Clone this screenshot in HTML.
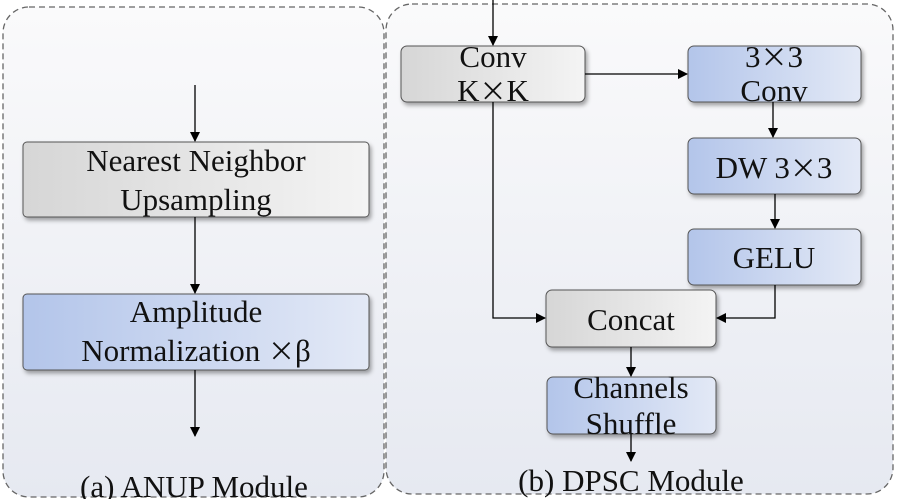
<!DOCTYPE html>
<html><head><meta charset="utf-8"><style>
body{margin:0;background:#fff;}
</style></head><body>
<svg width="897" height="499" viewBox="0 0 897 499" xmlns="http://www.w3.org/2000/svg">
<defs>
<linearGradient id="pan" x1="0" y1="0" x2="0" y2="1"><stop offset="0" stop-color="#fafafb"/><stop offset="1" stop-color="#e6e9f1"/></linearGradient>
<linearGradient id="gray" x1="0" y1="0" x2="1" y2="0"><stop offset="0" stop-color="#d6d6d6"/><stop offset="1" stop-color="#f4f4f4"/></linearGradient>
<linearGradient id="blue" x1="0" y1="0" x2="1" y2="0"><stop offset="0" stop-color="#b3c5ea"/><stop offset="1" stop-color="#e3e9f6"/></linearGradient>
<marker id="ar" markerWidth="10" markerHeight="10" refX="9" refY="5" orient="auto" markerUnits="userSpaceOnUse"><path d="M0,0 L10,5 L0,10z" fill="#000"/></marker>
<filter id="sh" x="-5%" y="-10%" width="115%" height="130%"><feDropShadow dx="2" dy="3" stdDeviation="2" flood-color="#000" flood-opacity="0.35"/></filter>
</defs>
<rect x="3" y="7" width="381" height="490" rx="26" fill="url(#pan)" stroke="#666" stroke-width="1.3" stroke-dasharray="6,4"/>
<rect x="386" y="4" width="507" height="490" rx="26" fill="url(#pan)" stroke="#666" stroke-width="1.3" stroke-dasharray="6,4"/>
<g stroke="#555" stroke-width="1" filter="url(#sh)">
<rect x="23" y="142" width="346" height="75" rx="4" fill="url(#gray)"/>
<rect x="23" y="294" width="346" height="76" rx="4" fill="url(#blue)"/>
<rect x="401" y="46" width="184" height="56" rx="6" fill="url(#gray)"/>
<rect x="688" y="46" width="173" height="56" rx="6" fill="url(#blue)"/>
<rect x="688" y="138" width="173" height="56" rx="6" fill="url(#blue)"/>
<rect x="688" y="229" width="173" height="56" rx="6" fill="url(#blue)"/>
<rect x="546" y="290" width="170" height="57" rx="6" fill="url(#gray)"/>
<rect x="547" y="377" width="169" height="57" rx="6" fill="url(#blue)"/>
</g>
<g stroke="#000" stroke-width="1.3" fill="none" marker-end="url(#ar)">
<line x1="195" y1="85" x2="195" y2="141"/>
<line x1="195" y1="217" x2="195" y2="293"/>
<line x1="195" y1="370" x2="195" y2="436"/>
<line x1="493" y1="0" x2="493" y2="45"/>
<line x1="585" y1="74" x2="687" y2="74"/>
<line x1="773" y1="102" x2="773" y2="137"/>
<line x1="775" y1="194" x2="775" y2="228"/>
<polyline points="493,102 493,318 545,318"/>
<polyline points="775,285 775,318 717,318"/>
<line x1="631" y1="347" x2="631" y2="376"/>
<line x1="631" y1="434" x2="631" y2="461"/>
</g>
<g font-family="Liberation Serif, serif" font-size="31" fill="#111" text-anchor="middle">
<text x="196" y="171">Nearest Neighbor</text>
<text x="196" y="210">Upsampling</text>
<text x="196" y="322">Amplitude</text>
<text x="196" y="361">Normalization <tspan font-family="Noto Sans CJK SC, sans-serif" font-size="27">×</tspan>β</text>
<text x="493" y="67">Conv</text>
<text x="493" y="101">K<tspan font-family="Noto Sans CJK SC, sans-serif" font-size="27">×</tspan>K</text>
<text x="774" y="67">3<tspan font-family="Noto Sans CJK SC, sans-serif" font-size="27">×</tspan>3</text>
<text x="774" y="101">Conv</text>
<text x="774" y="178">DW 3<tspan font-family="Noto Sans CJK SC, sans-serif" font-size="27">×</tspan>3</text>
<text x="774" y="268">GELU</text>
<text x="631" y="330">Concat</text>
<text x="631" y="398">Channels</text>
<text x="631" y="434">Shuffle</text>
<text x="194" y="497">(a) ANUP Module</text>
<text x="631" y="491">(b) DPSC Module</text>
</g>
</svg>
</body></html>
